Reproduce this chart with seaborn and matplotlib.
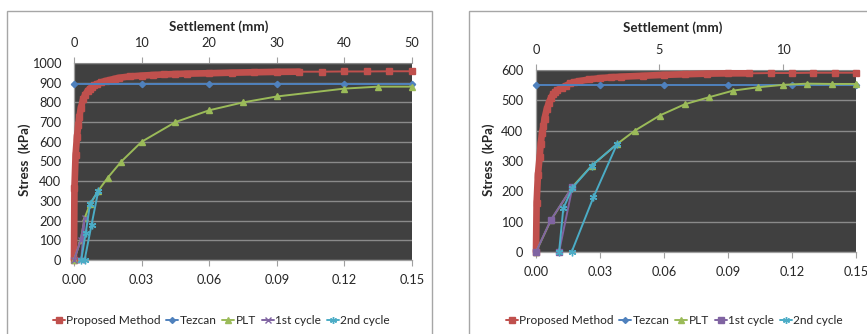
import numpy as np
import pandas as pd
import seaborn as sns
import matplotlib.pyplot as plt
from matplotlib.lines import Line2D
from matplotlib.patches import Rectangle

sns.set_style('white')
plt.rcParams['font.family'] = ['Lato', 'DejaVu Sans']

# ---- left chart (strain vs stress) ----
L_prop_x = [0, 0.0002, 0.0007, 0.0013, 0.0019, 0.0024, 0.003, 0.004, 0.005, 0.006, 0.007, 0.008,
            0.009, 0.010, 0.012, 0.014, 0.016, 0.018, 0.020, 0.025, 0.030, 0.035, 0.040, 0.045,
            0.050, 0.060, 0.070, 0.080, 0.090, 0.100, 0.11, 0.12, 0.13, 0.14, 0.15]
L_prop_y = [0, 365, 533, 624, 685, 728, 770, 815, 840, 858, 870, 880,
            887, 893, 902, 909, 914, 920, 925, 932, 936, 939, 942, 944,
            946, 948, 951, 953, 955, 956, 956, 957, 957, 958, 958]
L_tez_x = [0, 0.03, 0.06, 0.09, 0.12, 0.15]
L_tez_y = [893, 893, 893, 893, 893, 893]
L_plt_x = [0, 0.003, 0.0047, 0.0071, 0.0108, 0.015, 0.021, 0.03, 0.045, 0.06, 0.075, 0.09, 0.12, 0.135, 0.15]
L_plt_y = [0, 101, 212, 284, 352, 418, 500, 600, 700, 760, 800, 830, 870, 880, 880]
L_c1_x = [0, 0.003, 0.0047, 0.0032]
L_c1_y = [0, 101, 212, 0]
L_c2_x = [0.0032, 0.0052, 0.0071, 0.0108, 0.0078, 0.0047]
L_c2_y = [0, 137, 284, 352, 180, 0]

# ---- right chart ----
R_prop_x = [0, 0.0003, 0.0009, 0.0017, 0.0022, 0.0028, 0.0035, 0.004, 0.005, 0.006, 0.007, 0.008,
            0.009, 0.010, 0.012, 0.014, 0.016, 0.018, 0.020, 0.025, 0.030, 0.035, 0.040, 0.050,
            0.060, 0.070, 0.080, 0.090, 0.100, 0.11, 0.12, 0.13, 0.14, 0.15]
R_prop_y = [0, 163, 254, 314, 356, 391, 415, 440, 470, 492, 508, 520,
            528, 534, 542, 548, 556, 560, 563, 569, 573, 576, 578, 581,
            584, 586, 588, 589, 589, 590, 590, 591, 591, 591]
R_tez_x = [0, 0.03, 0.06, 0.09, 0.12, 0.15]
R_tez_y = [551, 551, 551, 551, 551, 551]
R_plt_x = [0, 0.007, 0.0171, 0.0262, 0.038, 0.0463, 0.058, 0.0697, 0.081, 0.0924, 0.104, 0.1157, 0.127, 0.1388, 0.15]
R_plt_y = [0, 105, 215, 285, 356, 400, 450, 487, 510, 532, 543, 551, 555, 554, 554]
R_c1_x = [0, 0.0069, 0.0171, 0.0108]
R_c1_y = [0, 105, 215, 0]
R_c2_x = [0.0108, 0.0128, 0.0171, 0.0262, 0.038, 0.0269, 0.0167]
R_c2_y = [0, 144, 212, 285, 356, 180, 0]

x_ticks = [0, 0.03, 0.06, 0.09, 0.12, 0.15]
labels = ['Proposed Method', 'Tezcan', 'PLT', '1st cycle', '2nd cycle']
colors = ['#C0504D', '#4F81BD', '#9BBB59', '#8064A2', '#4BACC6']
star = (6, 2, 0)

fig = plt.figure(figsize=(8.67, 3.34), dpi=100)
W, H = 867, 334


def px_axes(x0, y0, x1, y1):
    return fig.add_axes([x0 / W, 1 - y1 / H, (x1 - x0) / W, (y1 - y0) / H])


def draw_line(ax, x, y, color, marker, ms, lw=1.4, mew=1.0):
    sns.lineplot(x=x, y=y, ax=ax, sort=False, estimator=None, color=color,
                 marker=marker, markersize=ms, linewidth=lw, markeredgecolor=color,
                 markeredgewidth=mew, clip_on=False, zorder=3)


def panel(ax, prop, tez, plt_, c1, c2, c1_marker, ymax, mm_per_strain, top_ticks):
    ax.set_facecolor('#404040')
    # proposed method: dense part drawn as thick band, tail with markers
    px, py = prop
    dense = [i for i, v in enumerate(px) if v <= 0.1005]
    sns.lineplot(x=[px[i] for i in dense], y=[py[i] for i in dense], ax=ax, sort=False,
                 estimator=None, color=colors[0], linewidth=4.8, clip_on=False, zorder=3)
    draw_line(ax, px, py, colors[0], 's', 4.8)
    draw_line(ax, tez[0], tez[1], colors[1], 'D', 3.2)
    draw_line(ax, plt_[0], plt_[1], colors[2], '^', 4.8)
    draw_line(ax, c1[0], c1[1], colors[3], c1_marker, 4.6)
    draw_line(ax, c2[0], c2[1], colors[4], star, 5.5, mew=1.0)

    ax.set_xlim(0, 0.15)
    ax.set_ylim(0, ymax)
    ax.set_xticks(x_ticks)
    ax.set_xticklabels([f'{t:.2f}' for t in x_ticks])
    ax.set_yticks(np.arange(0, ymax + 1, 100))
    ax.yaxis.grid(True, color='#8A8A8A', linewidth=1.0)
    ax.xaxis.grid(False)
    ax.set_axisbelow(True)
    ax.set_xlabel('')
    ax.set_ylabel('')
    for s in ['top', 'right']:
        ax.spines[s].set_visible(False)
    for s in ['left', 'bottom']:
        ax.spines[s].set_color('#A0A0A0')
        ax.spines[s].set_linewidth(0.9)
    ax.tick_params(axis='x', direction='out', length=4, width=0.8, color='#A0A0A0',
                   labelsize=9.2, pad=6, bottom=True)
    ax.tick_params(axis='y', length=0, labelsize=9.2, pad=9)

    sec = ax.secondary_xaxis('top', functions=(lambda s: s * mm_per_strain,
                                               lambda m: m / mm_per_strain))
    sec.set_xticks(top_ticks)
    sec.tick_params(direction='out', length=4, width=0.8, color='#A0A0A0', labelsize=9.2, pad=6)
    sec.spines['top'].set_color('#A0A0A0')
    sec.spines['top'].set_linewidth(0.8)


axL = px_axes(74, 63, 412, 260)
panel(axL, (L_prop_x, L_prop_y), (L_tez_x, L_tez_y), (L_plt_x, L_plt_y),
      (L_c1_x, L_c1_y), (L_c2_x, L_c2_y), 'x', 1000, 50 / 0.15, [0, 10, 20, 30, 40, 50])

axR = px_axes(536, 70, 856, 252)
panel(axR, (R_prop_x, R_prop_y), (R_tez_x, R_tez_y), (R_plt_x, R_plt_y),
      (R_c1_x, R_c1_y), (R_c2_x, R_c2_y), 's', 600, 86.4, [0, 5, 10])

# chart frames
fig.patches.append(Rectangle((7 / W, -0.1), (432 - 7) / W, 1.1 - 11 / H, transform=fig.transFigure,
                             fill=False, edgecolor='#A6A6A6', linewidth=1.0))
fig.patches.append(Rectangle((469 / W, -0.1), 0.5, 1.1 - 11 / H, transform=fig.transFigure,
                             fill=False, edgecolor='#A6A6A6', linewidth=1.0))

# titles and axis labels
fig.text(219 / W, 1 - 27 / H, 'Settlement (mm)', ha='center', va='center', fontsize=9.6, fontweight='bold')
fig.text(673 / W, 1 - 28 / H, 'Settlement (mm)', ha='center', va='center', fontsize=9.6, fontweight='bold')
fig.text(25 / W, 1 - 160 / H, 'Stress  (kPa)', ha='center', va='center', rotation=90,
         fontsize=9.6, fontweight='bold')
fig.text(489 / W, 1 - 160 / H, 'Stress  (kPa)', ha='center', va='center', rotation=90,
         fontsize=9.6, fontweight='bold')


def legend_handles(c1_marker):
    mk = ['s', 'D', '^', c1_marker, star]
    ms = [4.2, 3.0, 4.2, 4.2, 5.0]
    return [Line2D([0], [0], color=c, marker=m, markersize=s, markeredgecolor=c, linewidth=1.4)
            for c, m, s in zip(colors, mk, ms)]


for cx, c1m in [(221, 'x'), (674, 's')]:
    fig.legend(legend_handles(c1m), labels, loc='center', bbox_to_anchor=(cx / W, 1 - 321 / H),
               ncol=5, frameon=False, fontsize=8.6, handlelength=1.0, handletextpad=0.1,
               columnspacing=0.5, borderaxespad=0)

fig.savefig('out.png', dpi=100)
